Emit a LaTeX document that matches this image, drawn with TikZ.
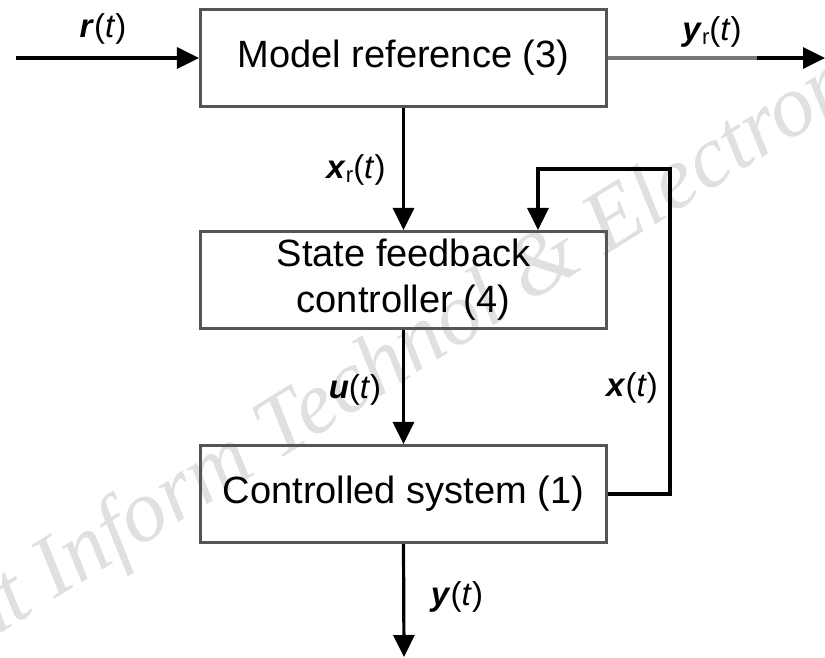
\documentclass[tikz,border=0pt]{standalone}
\usepackage{fontspec}
\setmainfont{Liberation Sans}
\newfontfamily\wmfont{Liberation Serif}
\usetikzlibrary{arrows.meta}
\definecolor{boxgray}{HTML}{555555}
\definecolor{wmgray}{HTML}{E0E0E0}
\definecolor{linegray}{HTML}{777777}
\newcommand\bvec[1]{\textbf{\textit{#1}}}
\newcommand\sig[1]{\bvec{#1}(\textit{t})}
\newcommand\sigr[1]{\bvec{#1}{\fontsize{22}{22}\selectfont\raisebox{-4pt}{r}}(\textit{t})}
\begin{document}
\begin{tikzpicture}[x=1pt,y=-1pt,
  block/.style={draw=boxgray, line width=3.2pt, minimum width=406pt, minimum height=97pt,
    inner sep=0pt, align=center, font=\fontsize{38}{46}\selectfont},
  sigtext/.style={inner sep=0pt, font=\fontsize{33}{38}\selectfont},
  arr/.style={draw=black, line width=3.2pt, -{Triangle[length=22pt,width=21pt]}},
  plain/.style={draw=linegray, line width=3.2pt},
  wm/.style={text=wmgray, font=\wmfont\itshape\fontsize{88}{88}\selectfont, inner sep=0pt}]
\useasboundingbox (0,0) rectangle (825,657);

% journal watermark behind the diagram
\begin{scope}
  \clip (0,0) rectangle (825,657);
  \node[wm, rotate=32, anchor=base west] (mark) at (-22,648) {nt Inform Technol \& Electron};
\end{scope}

% blocks
\node[block] (mr) at (403.5,58) {Model reference (3)};
\node[block] (sf) at (403.5,280) {State feedback\\controller (4)};
\node[block] (cs) at (403.5,494) {Controlled system (1)};

% free ends and corners
\coordinate (in) at (16,58);
\coordinate (mid) at (758,58);
\coordinate (out) at (825,58);
\coordinate (fbR) at (670,169);
\coordinate (fbL) at (538,169);
\coordinate (yend) at (404,657);

% connectors
\draw[arr] (in) -- (mr.west);
\draw[plain] (mr.east) -- (mid);
\draw[arr] ([xshift=-1pt]mid) -- (out);
\draw[arr] (mr.south) -- (sf.north);
\draw[arr] (sf.south) -- (cs.north);
\draw[arr] (cs.east) -| (fbR) -- (fbL) -- (fbL |- sf.north);
\draw[arr] (cs.south) -- (yend);

% signal labels
\node[sigtext] (lr) at (103,29) {\sig{r}};
\node[sigtext] (lyr) at (712,32) {\sigr{y}};
\node[sigtext] (lxr) at (356,170) {\sigr{x}};
\node[sigtext] (lu) at (355,390) {\sig{u}};
\node[sigtext] (lx) at (632,388) {\sig{x}};
\node[sigtext] (ly) at (457,597) {\sig{y}};
\end{tikzpicture}
\end{document}
